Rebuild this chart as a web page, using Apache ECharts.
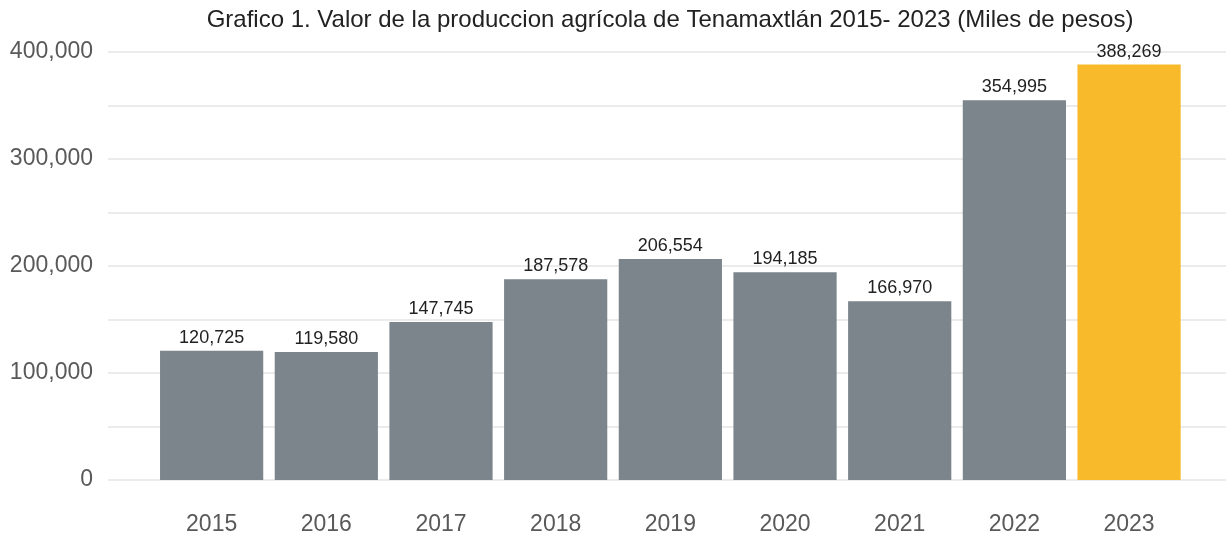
<!DOCTYPE html>
<html><head><meta charset="utf-8">
<script src="https://cdn.jsdelivr.net/npm/echarts@6/dist/echarts.min.js"></script>
<style>html,body{margin:0;padding:0;background:#fff}#c{width:1226px;height:536px}</style>
</head><body><div id="c"></div>
<script>
const years = ['2015','2016','2017','2018','2019','2020','2021','2022','2023'];
const values = [120725, 119580, 147745, 187578, 206554, 194185, 166970, 354995, 388269];
const highlightYear = '2023';
const titleText = 'Grafico 1. Valor de la produccion agrícola de Tenamaxtlán 2015- 2023 (Miles de pesos)';

const fmt = v => Number(v).toLocaleString('en-US');
const chart = echarts.init(document.getElementById('c'));
chart.setOption({
  backgroundColor: '#fff',
  animation: false,
  title: {text: titleText, left: 665, textAlign: 'center', top: 3,
    textStyle: {fontFamily: 'Liberation Sans, Arial', fontSize: 24, fontWeight: 'normal', color: '#222'}},
  grid: [
    {left: 108, right: 0, top: 52, bottom: 56},
    {left: 154.3, right: 39.6, top: 52, bottom: 56}
  ],
  xAxis: [
    {type: 'category', gridIndex: 0, data: years, show: false},
    {type: 'category', gridIndex: 1, data: years,
      axisLine: {show: false}, axisTick: {show: false},
      axisLabel: {margin: 33, fontFamily: 'Liberation Sans, Arial', fontSize: 23, color: '#595959'}}
  ],
  yAxis: [
    {type: 'value', gridIndex: 0, min: 0, max: 400000, interval: 50000,
      axisLine: {show: false}, axisTick: {show: false},
      axisLabel: {margin: 15, fontFamily: 'Liberation Sans, Arial', fontSize: 23, color: '#595959',
        formatter: v => (v % 100000 === 0 ? fmt(v) : '')},
      splitLine: {lineStyle: {color: '#ebebeb', width: 2}}},
    {type: 'value', gridIndex: 1, min: 0, max: 400000, interval: 50000, show: false,
      splitLine: {show: false}}
  ],
  series: [{
    type: 'bar', xAxisIndex: 1, yAxisIndex: 1,
    barCategoryGap: '10%',
    data: values.map((v, i) => ({value: v,
      itemStyle: {color: years[i] === highlightYear ? '#f8ba2b' : '#7b858b'}})),
    label: {show: true, position: 'top', distance: 4, fontFamily: 'Liberation Sans, Arial',
      fontSize: 18, color: '#222', formatter: p => fmt(p.value)}
  }]
});
</script></body></html>
